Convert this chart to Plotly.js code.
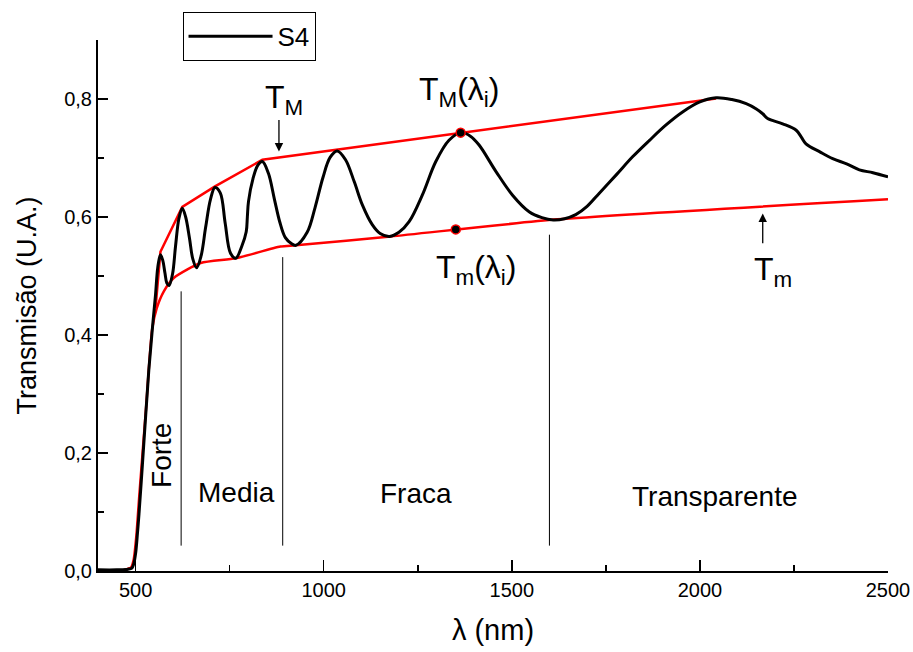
<!DOCTYPE html>
<html>
<head>
<meta charset="utf-8">
<script src="https://cdn.plot.ly/plotly-3.0.1.min.js"></script>
<style>html,body{margin:0;padding:0;background:#fff;}#chart{width:913px;height:652px;}</style>
</head>
<body>
<div id="chart"></div>
<script>
// S4 transmission spectrum
const wavelength = [400,450,480,490,495,500,505,509,518,527,535,544,553,559,566,572,578,583,589,598,606,615,624,633,643,652,662,674,686,699,711,725,738,752,766,782,794,797,800,812,825,837,853,869,883,898,914,926,956,977,998,1017,1036,1058,1081,1103,1129,1150,1175,1200,1227,1262,1298,1333,1365,1390,1413,1458,1502,1546,1580,1610,1640,1670,1700,1732,1777,1821,1866,1910,1954,2000,2043,2085,2123,2150,2167,2180,2220,2256,2270,2282,2320,2353,2390,2424,2460,2500];
const transmission = [0.002,0.002,0.003,0.005,0.012,0.030,0.065,0.097,0.180,0.266,0.340,0.407,0.469,0.515,0.536,0.527,0.505,0.488,0.484,0.503,0.550,0.597,0.615,0.600,0.565,0.529,0.514,0.534,0.582,0.630,0.650,0.641,0.590,0.539,0.530,0.550,0.575,0.600,0.626,0.665,0.688,0.694,0.674,0.630,0.592,0.565,0.555,0.552,0.574,0.616,0.667,0.701,0.712,0.697,0.660,0.620,0.587,0.572,0.567,0.574,0.592,0.637,0.694,0.730,0.743,0.737,0.722,0.677,0.637,0.609,0.599,0.595,0.597,0.604,0.618,0.640,0.671,0.702,0.730,0.756,0.778,0.795,0.802,0.799,0.792,0.783,0.775,0.767,0.758,0.747,0.735,0.724,0.710,0.699,0.690,0.680,0.675,0.668];

// Upper envelope T_M
const envUpperX = [553,566,624,711,837,2043];
const envUpperY = [0.446,0.541,0.617,0.652,0.697,0.801];
// Lower envelope T_m (including absorption edge)
const envLowerX = [470,488,495,502,510,527,544,556,575,602,673,766,885,926,1178,1621,2500];
const envLowerY = [0.002,0.006,0.020,0.060,0.130,0.270,0.410,0.445,0.474,0.497,0.522,0.530,0.550,0.552,0.567,0.596,0.630];

// Marked points T_M(λi), T_m(λi)
const dotX = [1364,1351];
const dotY = [0.743,0.579];

const yTickVals = [0,0.2,0.4,0.6,0.8];
const yTickText = ['0,0','0,2','0,4','0,6','0,8'];
const xTickVals = [500,1000,1500,2000,2500];
const xTickText = ['500','1000','1500','2000','2500'];

const seriesName = 'S4';

const traces = [
  {x: envLowerX, y: envLowerY, mode:'lines', line:{color:'#ff0000', width:2.5, shape:'spline', smoothing:0.6}, showlegend:false, hoverinfo:'skip'},
  {x: envUpperX, y: envUpperY, mode:'lines', line:{color:'#ff0000', width:2.5}, showlegend:false, hoverinfo:'skip'},
  {x: wavelength, y: transmission, mode:'lines', name: seriesName, line:{color:'#000000', width:3, shape:'spline', smoothing:1}},
  {x: dotX, y: dotY, mode:'markers', marker:{color:'#000000', size:9, line:{color:'#ff0000', width:1.5}}, showlegend:false, hoverinfo:'skip'}
];

const font = 'Liberation Sans, Arial, sans-serif';
const txt = (x, y, text, size, extra) => Object.assign({x:x, y:y, xref:'x', yref:'y', text:text, showarrow:false, font:{family:font, size:size, color:'#000'}}, extra||{});

const layout = {
  width: 913, height: 652,
  margin: {l:98, r:25, t:38, b:81},
  paper_bgcolor:'#fff', plot_bgcolor:'#fff',
  font: {family: font, color:'#000'},
  showlegend: true,
  legend: {x:0.107, y:1.053, xanchor:'left', yanchor:'top', bordercolor:'#000', borderwidth:1, bgcolor:'#fff', font:{size:26, family:font}, itemwidth:84},
  xaxis: {
    range:[400,2500], showgrid:false, zeroline:false, showline:true, linecolor:'#000', linewidth:2,
    ticks:'inside', ticklen:11, tickwidth:1.5, tickcolor:'#000',
    tickmode:'array', tickvals:xTickVals, ticktext:xTickText, tickfont:{size:20, family:font},
    minor:{tickmode:'linear', tick0:250, dtick:250, ticks:'inside', ticklen:6, tickwidth:1.5, tickcolor:'#000'},
    title:{text:'λ (nm)', font:{size:29, family:font}, standoff:20}
  },
  yaxis: {
    range:[0,0.9], showgrid:false, zeroline:false, showline:true, linecolor:'#000', linewidth:2,
    ticks:'inside', ticklen:10, tickwidth:1.5, tickcolor:'#000',
    tickmode:'array', tickvals:yTickVals, ticktext:yTickText, tickfont:{size:20, family:font},
    minor:{tickmode:'linear', tick0:0.1, dtick:0.2, ticks:'inside', ticklen:6, tickwidth:1.5, tickcolor:'#000'},
    title:{text:'Transmisão (U.A.)', font:{size:27, family:font}, standoff:20}
  },
  shapes: [
    {type:'line', xref:'x', yref:'y', x0:621, x1:621, y0:0.043, y1:0.474, line:{color:'#000', width:1}},
    {type:'line', xref:'x', yref:'y', x0:891, x1:891, y0:0.043, y1:0.532, line:{color:'#000', width:1}},
    {type:'line', xref:'x', yref:'y', x0:1600, x1:1600, y0:0.043, y1:0.570, line:{color:'#000', width:1}}
  ],
  annotations: [
    txt(569, 0.196, 'Forte', 28, {textangle:-90}),
    txt(767, 0.133, 'Media', 28),
    txt(1246, 0.132, 'Fraca', 28),
    txt(2041, 0.127, 'Transparente', 28),
    txt(895, 0.80, 'T<sub>M</sub>', 32),
    txt(1360, 0.813, 'T<sub>M</sub>(λ<sub>i</sub>)', 32),
    txt(1405, 0.511, 'T<sub>m</sub>(λ<sub>i</sub>)', 32),
    txt(2193, 0.508, 'T<sub>m</sub>', 32),
    {x:881, y:0.711, ax:881, ay:0.767, xref:'x', yref:'y', axref:'x', ayref:'y', text:'', showarrow:true, arrowhead:2, arrowsize:1.3, arrowwidth:1.3, arrowcolor:'#000'},
    {x:2167, y:0.606, ax:2167, ay:0.553, xref:'x', yref:'y', axref:'x', ayref:'y', text:'', showarrow:true, arrowhead:2, arrowsize:1.3, arrowwidth:1.3, arrowcolor:'#000'}
  ]
};

Plotly.newPlot('chart', traces, layout, {displayModeBar:false, staticPlot:true});
</script>
</body>
</html>
